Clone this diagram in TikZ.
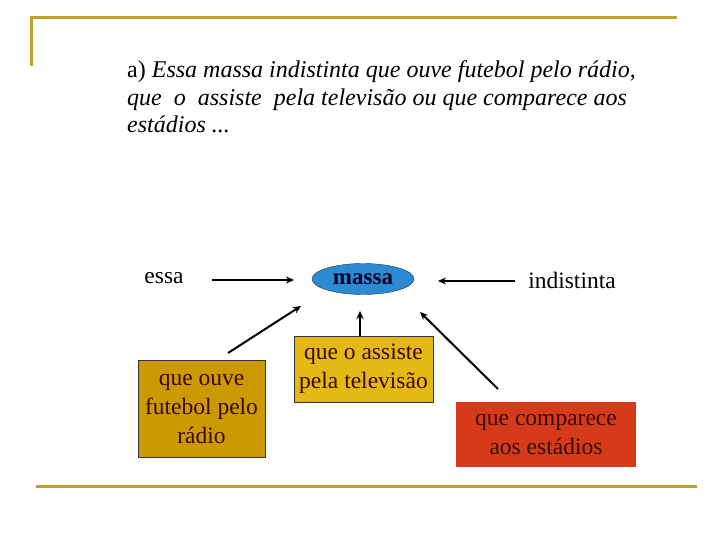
\documentclass[tikz,border=0pt]{standalone}
\usepackage{fontspec}
\setmainfont{Liberation Serif}
\usetikzlibrary{shapes.geometric,arrows.meta}
\definecolor{goldline}{HTML}{BFA030}
\definecolor{boxA}{HTML}{CC9900}
\definecolor{boxB}{HTML}{E4B914}
\definecolor{boxC}{HTML}{D63A1B}
\definecolor{ellblue}{HTML}{2C8AD2}
\definecolor{boxtext}{HTML}{3A0A00}
\tikzset{
  rule/.style={draw=goldline, line width=3pt},
  lbl/.style={font=\fontsize{23.5}{27}\selectfont, inner sep=0pt},
  box/.style={draw=black!80, line width=0.6pt, font=\fontsize{23.5}{29}\selectfont, text=boxtext, align=center, inner sep=0pt},
  arr/.style={draw=black, line width=2pt, -{Stealth[length=8pt,width=7pt]}}
}
\begin{document}
\begin{tikzpicture}[x=1pt,y=-1pt]
\useasboundingbox (0,0) rectangle (720,540);
% frame lines
\draw[rule] (31,66) -- (31,18) -- (677,18);
\draw[rule] (36,486) -- (697,486);
% title
\node[anchor=west, font=\fontsize{24}{27.5}\selectfont, align=left, inner sep=0pt] (title) at (127,97)
  {a) \textit{Essa massa indistinta que ouve futebol pelo rádio,}\\
   \textit{que\ \ o\ \ assiste\ \ pela televisão ou que comparece aos}\\
   \textit{estádios ...}};
% nodes
\node[lbl] (essa) at (164,278) {essa};
\node[ellipse, draw=black!80, fill=ellblue, minimum width=102pt, minimum height=31pt, inner sep=0pt,
      font=\fontsize{23}{26}\selectfont\bfseries, text=black!85!blue] (massa) at (363,279) {massa};
\node[lbl] (indis) at (572,280) {indistinta};
\node[box, fill=boxA, minimum width=127pt, minimum height=97pt] (radio) at (201.5,408.5)
  {que ouve\\futebol pelo\\rádio};
\node[box, fill=boxB, minimum width=139pt, minimum height=66pt] (tv) at (363.5,369)
  {que o assiste\\pela televisão};
\node[box, draw=none, fill=boxC, minimum width=180pt, minimum height=65pt] (est) at (546,434.5)
  {que comparece\\aos estádios};
% connector anchors
\coordinate (e1) at (212,280);
\coordinate (e2) at (294,280);
\coordinate (i1) at (515,281);
\coordinate (i2) at (438,281);
\coordinate (r1) at (228,353);
\coordinate (r2) at (301,306);
\coordinate (t1) at (360,336);
\coordinate (t2) at (360,311);
\coordinate (s1) at (498,389);
\coordinate (s2) at (420,312);
\draw[arr] (e1) -- (e2);
\draw[arr] (i1) -- (i2);
\draw[arr] (r1) -- (r2);
\draw[arr] (t1) -- (t2);
\draw[arr] (s1) -- (s2);
\end{tikzpicture}
\end{document}
